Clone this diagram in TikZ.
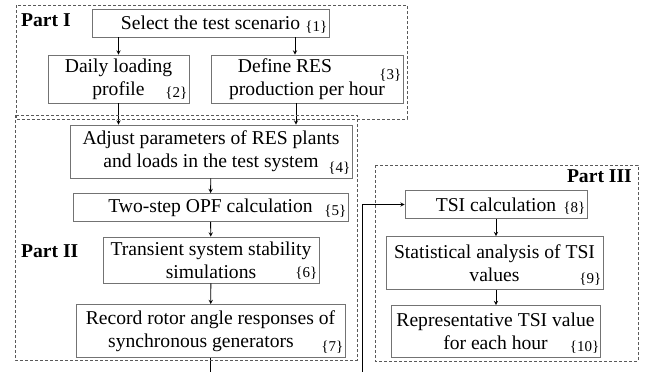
\documentclass[tikz,border=0pt]{standalone}
\usepackage{fontspec}
\setmainfont{Liberation Serif}
\usetikzlibrary{arrows}
\tikzstyle{process} = [rectangle, draw=black!55, line width=0.8pt, inner sep=0pt, align=center, font=\fontsize{19.6}{23}\selectfont]
\tikzstyle{tag} = [font=\fontsize{15}{15}\selectfont, inner sep=0pt, anchor=base east, xshift=-2pt, yshift=6pt]
\tikzstyle{part} = [draw=black!65, line width=0.8pt, dash pattern=on 3pt off 2pt]
\tikzstyle{partlabel} = [font=\fontsize{19.6}{23}\selectfont\bfseries, inner sep=0pt]
\tikzstyle{arrow} = [line width=0.9pt, ->, >=stealth]

\begin{document}
\begin{tikzpicture}[node distance=56pt]
\useasboundingbox (0,0) rectangle (651pt,-372pt);
\clip (0,0) rectangle (651pt,-372pt);
\fill[white] (0,0) rectangle (651pt,-372pt);

% Part I
\node (select) [process, minimum width=237pt, minimum height=28pt, label={[tag]south east:\{1\}}] at (210.5pt,-23pt) {Select the test scenario};
\node (daily) [process, below of=select, xshift=-92pt, minimum width=141pt, minimum height=48pt, label={[tag]south east:\{2\}}] {Daily loading\\profile};
\node (resgen) [process, below of=select, xshift=96.5pt, minimum width=192pt, minimum height=48pt, label={[tag, yshift=18pt]south east:\{3\}}] {Define RES\hspace*{44pt}\\production per hour};
\draw [arrow] (daily.north |- select.south) -- (daily.north);
\draw [arrow] ([xshift=84.5pt]select.south) -- ([xshift=84.5pt]select.south |- resgen.north);

% Part II
\node (adjust) [process, below of=select, yshift=-72.5pt, xshift=0.5pt, minimum width=282pt, minimum height=53pt, label={[tag]south east:\{4\}}] {Adjust parameters of RES plants\\and loads in the test system};
\draw [arrow] (daily.south) -- (daily.south |- adjust.north);
\draw [arrow] ([xshift=-11pt]resgen.south) -- ([xshift=-11pt]resgen.south |- adjust.north);

\node (opf) [process, below of=adjust, xshift=-0.5pt, minimum width=275pt, minimum height=28pt, label={[tag]south east:\{5\}}] {Two-step OPF calculation};
\draw [arrow] (adjust) -- (opf);

\node (transient) [process, below of=opf, yshift=3.5pt, xshift=0.5pt, minimum width=216pt, minimum height=46pt, label={[tag]south east:\{6\}}] {Transient system stability\\simulations};
\draw [arrow] (opf) -- (transient);

\node (record) [process, below of=transient, yshift=-15pt, xshift=-0.5pt, minimum width=269pt, minimum height=53pt, label={[tag]south east:\{7\}}] {Record rotor angle responses of\\synchronous generators\hspace*{19pt}};
\draw [arrow] (transient) -- (record);

% Part III
\node (tsi) [process, right of=opf, xshift=229.5pt, yshift=3pt, minimum width=182pt, minimum height=28pt, label={[tag]south east:\{8\}}] {TSI calculation};
\draw [arrow] (record.south) -- ++(0,-30pt) -| ([xshift=-42pt]tsi.west) -- (tsi.west);

\node (stats) [process, below of=tsi, yshift=-2.5pt, xshift=-1.5pt, minimum width=217pt, minimum height=53pt, label={[tag]south east:\{9\}}] {Statistical analysis of TSI\\values};
\draw [arrow] (tsi.south) -- (tsi.south |- stats.north);

\node (repr) [process, below of=stats, yshift=-12.5pt, xshift=1pt, minimum width=209pt, minimum height=52pt, label={[tag, xshift=1pt]south east:\{10\}}] {Representative TSI value\\for each hour};
\draw [arrow] (tsi.south |- stats.south) -- (tsi.south |- repr.north);

% dashed frames
\draw [part] (16pt,-5pt) rectangle (407pt,-119pt);
\draw [part] (15pt,-115pt) rectangle (357pt,-360pt);
\draw [part] (375pt,-165pt) rectangle (638pt,-361pt);
\node (part1) [partlabel, anchor=base west] at (21pt,-27pt) {Part I};
\node (part2) [partlabel, anchor=base west] at (21pt,-257pt) {Part II};
\node (part3) [partlabel, anchor=base east] at (632pt,-182pt) {Part III};

\end{tikzpicture}
\end{document}
